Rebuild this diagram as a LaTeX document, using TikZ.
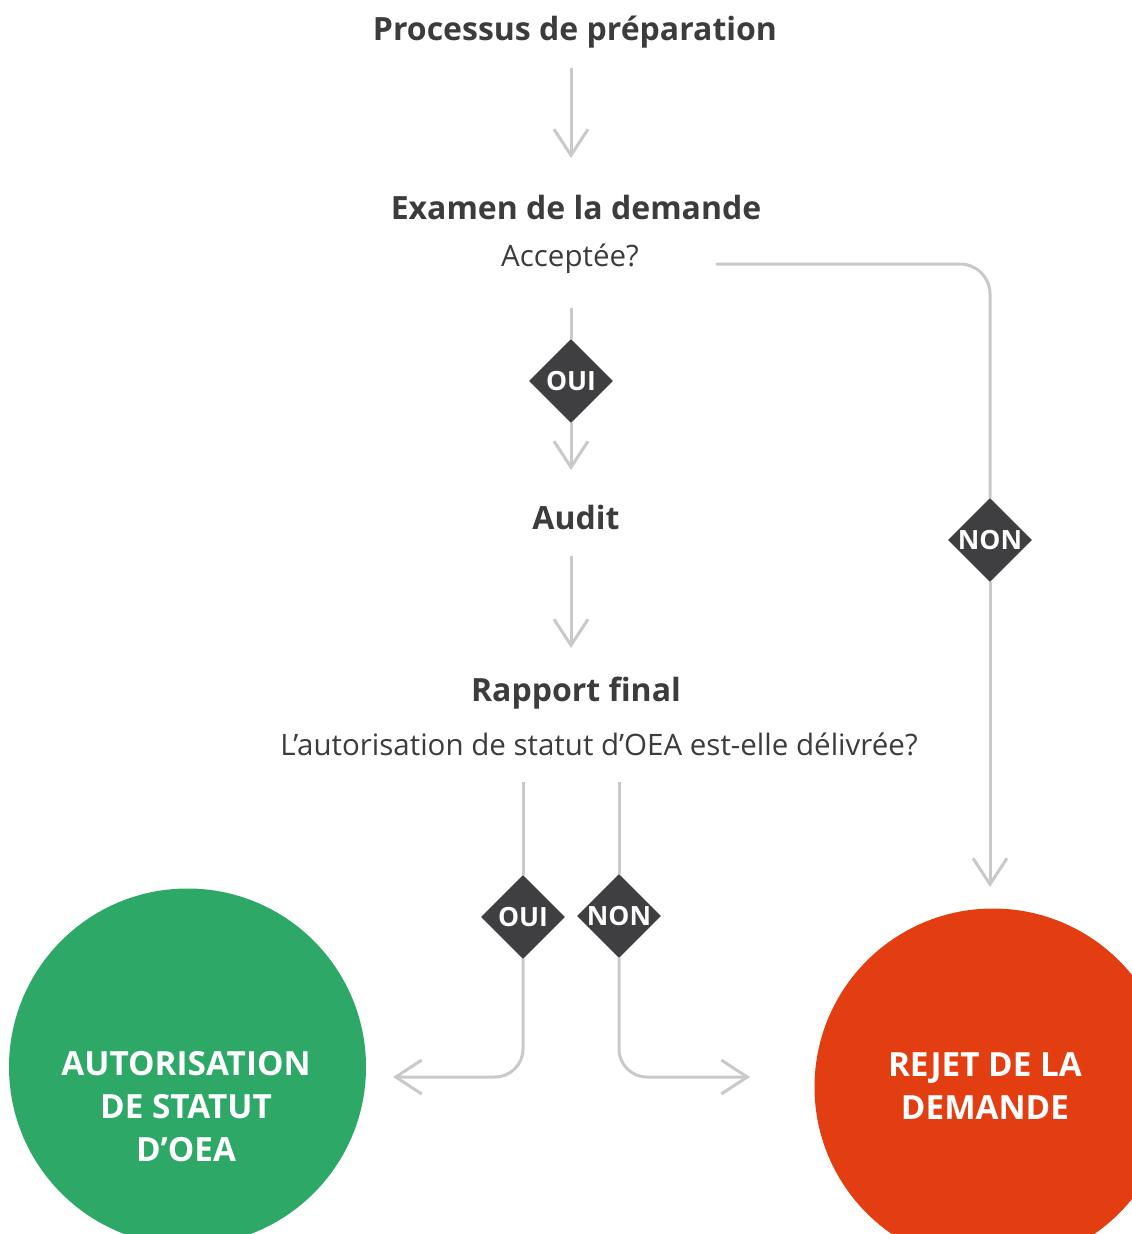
\documentclass[tikz,border=0pt]{standalone}
\usepackage{fontspec}
\setmainfont{Open Sans}
\usetikzlibrary{shapes.geometric,arrows.meta}
\definecolor{txt}{HTML}{3C3C3E}
\definecolor{lgray}{HTML}{C9C9C9}
\definecolor{dia}{HTML}{3F3F41}
\definecolor{vert}{HTML}{2DA866}
\definecolor{rouge}{HTML}{E33E12}
\tikzset{
  head/.style={text=txt,font=\fontsize{32}{36}\selectfont\bfseries,inner sep=0},
  sub/.style={text=txt,font=\fontsize{29.5}{32}\selectfont,inner sep=0},
  conn/.style={draw=lgray,line width=3pt},
  arr/.style={conn,-{Straight Barb[length=26pt,width=34pt]}},
  dec/.style={diamond,fill=dia,minimum width=84pt,minimum height=84pt,inner sep=0,
    text=white,font=\fontsize{26.5}{28}\selectfont\bfseries},
  endc/.style={circle,minimum size=357pt,inner sep=0},
  endt/.style={text=white,align=center,inner sep=0,
    font=\fontsize{33.3}{43}\selectfont\bfseries},
}
\begin{document}
\begin{tikzpicture}[x=1pt,y=-1pt]
\useasboundingbox (0,0) rectangle (1132,1234);
\clip (0,0) rectangle (1132,1234);
% circles
\node[endc,fill=vert] (auto) at (187.5,1067) {};
\node[endc,fill=rouge] (rejet) at (993,1087) {};
\node[endt] (autot) at (186,1107) {AUTORISATION\\DE STATUT\\D’OEA};
\node[endt] (rejett) at (985,1086) {REJET DE LA\\DEMANDE};
% texts
\node[head] (prep) at (575,32) {Processus de préparation};
\node[head] (exam) at (576,207) {Examen de la demande};
\node[sub] (acc) at (570,259) {Acceptée?};
\node[head] (audit) at (576,517) {Audit};
\node[head] (rapp) at (576,693) {Rapport final};
\node[sub] (quest) at (599,744) {L’autorisation de statut d’OEA est-elle délivrée?};
% diamonds
\node[dec] (oui1) at (571,381) {OUI};
\node[dec] (non1) at (990,540) {NON};
\node[dec] (oui2) at (523,917) {OUI};
\node[dec] (non2) at (619,916) {NON};
% coordinates
\coordinate (p1) at (571,68);
\coordinate (p2) at (571,158);
\coordinate (q1) at (571,308);
\coordinate (q2) at (571,470);
\coordinate (r1) at (716,264);
\coordinate (r2) at (990,887);
\coordinate (s1) at (571,556);
\coordinate (s2) at (571,648);
\coordinate (t1) at (523,782);
\coordinate (t2) at (393,1077);
\coordinate (u1) at (619,782);
\coordinate (u2) at (750,1077);
% connectors
\draw[arr] (p1) -- (p2);
\draw[conn] (q1) -- (oui1.north);
\draw[arr] (oui1.south) -- (q2);
\draw[conn,rounded corners=30pt] (r1) -| (non1.north);
\draw[arr] (non1.south) -- (r2);
\draw[arr] (s1) -- (s2);
\draw[conn] (t1) -- (oui2.north);
\draw[arr,rounded corners=28pt] (oui2.south) |- (t2);
\draw[conn] (u1) -- (non2.north);
\draw[arr,rounded corners=28pt] (non2.south) |- (u2);
\end{tikzpicture}
\end{document}
